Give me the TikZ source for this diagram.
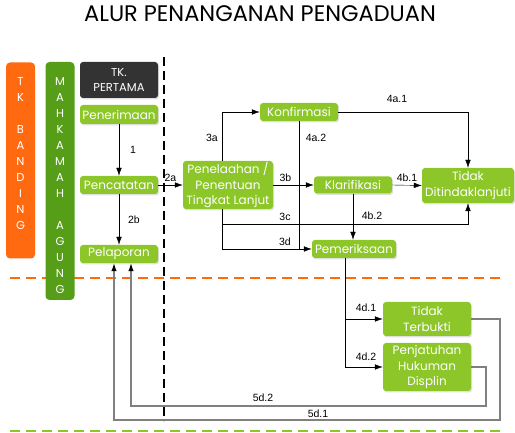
\documentclass[tikz,border=0pt]{standalone}
\usepackage{fontspec}
\setmainfont{Poppins}
\newfontfamily\labelfont{Liberation Sans}
\usetikzlibrary{arrows.meta,shadows}

\definecolor{boxgreen}{RGB}{140,198,40}
\definecolor{bargreen}{RGB}{86,158,24}
\definecolor{barorange}{RGB}{255,106,16}
\definecolor{boxdark}{RGB}{51,51,51}

\begin{document}
\begin{tikzpicture}[x=1pt,y=-1pt,
    tip/.style={-{Latex[length=8pt,width=5.5pt,black]}},
    box/.style={fill=boxgreen,rounded corners=3pt,text=white,align=center,inner sep=0pt,
        font=\fontsize{12}{15.5}\selectfont,
        drop shadow={opacity=0.25,shadow xshift=1pt,shadow yshift=-1.5pt}},
    bar/.style={rounded corners=4pt,minimum width=29pt,inner sep=0pt},
    letters/.style={text=white,align=center,inner sep=0pt,font=\fontsize{11.5}{16}\selectfont},
    lbl/.style={font=\labelfont\fontsize{10.5}{11}\selectfont},
    back/.style={draw=gray,line width=1.1pt}]
    \useasboundingbox (0,0) rectangle (515,433);
    \node[font=\fontsize{22.5}{24}\selectfont] (title) at (260,14) {ALUR PENANGANAN PENGADUAN};

    % batas tingkat
    \draw[barorange,line width=1.2pt,dash pattern=on 10pt off 6pt] (10,278) -- (505,278);
    \draw[boxgreen,line width=1.2pt,dash pattern=on 10pt off 6pt] (10,431) -- (505,431);
    \draw[line width=1.3pt,dash pattern=on 9pt off 5pt] (164,57) -- (164,421);

    \node[bar,fill=barorange,minimum height=196pt] (banding) at (20.5,160.5) {};
    \node[letters,anchor=north] at (banding.north |- 0,77) {T\\K\\ \mbox{}\\B\\A\\N\\D\\I\\N\\G};
    \node[bar,fill=bargreen,minimum height=238pt] (agung) at (60,181) {};
    \node[letters,anchor=north] at (agung.north |- 0,77) {M\\A\\H\\K\\A\\M\\A\\H\\ \mbox{}\\A\\G\\U\\N\\G};

    \node[box,fill=boxdark,minimum width=78pt,minimum height=36pt,font=\fontsize{11.5}{15}\selectfont] (pertama) at (119,80) {TK.\\PERTAMA};
    \node[box,minimum width=78pt,minimum height=19pt] (terima) at (119,114.5) {Penerimaan};
    \node[box,minimum width=78pt,minimum height=18pt] (catat) at (119,185) {Pencatatan};
    \node[box,minimum width=78pt,minimum height=18pt] (lapor) at (119,254) {Pelaporan};
    \node[box,minimum width=90pt,minimum height=48pt] (telaah) at (228,185) {Penelaahan /\\Penentuan\\Tingkat Lanjut};
    \node[box,minimum width=78pt,minimum height=18pt] (konf) at (299,112) {Konfirmasi};
    \node[box,minimum width=78pt,minimum height=17pt] (klar) at (353,185) {Klarifikasi};
    \node[box,minimum width=92pt,minimum height=35pt] (tidak) at (468,185.5) {Tidak\\Ditindaklanjuti};
    \node[box,minimum width=84pt,minimum height=18pt] (periksa) at (354,249) {Pemeriksaan};
    \node[box,minimum width=88pt,minimum height=34pt] (bukti) at (427,319) {Tidak\\Terbukti};
    \node[box,minimum width=88pt,minimum height=48pt] (hukum) at (427,367) {Penjatuhan\\Hukuman\\Displin};

    % alur
    \draw[tip] (terima) -- (catat) node[lbl,midway,xshift=14pt] {1};
    \draw[tip] (catat) -- (lapor) node[lbl,midway,xshift=15pt] {2b};
    \draw[tip] (catat.east) -- (telaah.west) node[lbl,midway,above] {2a};
    \draw[tip] ([xshift=-6pt]telaah.north) |- (konf.west);
    \draw[tip] (telaah.east) -- (klar.west) node[lbl,pos=0.3,above] {3b};
    \draw[tip] ([xshift=-6pt]telaah.south) -- ++(0,15) -| (tidak.south);
    \draw[tip] ([xshift=-6pt]telaah.south) |- (periksa.west);
    \draw[tip] (konf.east) -| (tidak.north);
    \draw (konf.south) -- (konf.south |- periksa.west);
    \draw[tip] (klar.east) -- (tidak.west) node[lbl,midway,above] {4b.1};
    \draw[tip] (klar.south) -- (klar.south |- periksa.north);
    \draw[tip] ([xshift=-9pt]periksa.south) |- (bukti.west);
    \draw[tip] ([xshift=-9pt]periksa.south) |- (hukum.west);
    \node[lbl] at (212,138) {3a};
    \node[lbl] at (285,217) {3c};
    \node[lbl] at (285,242) {3d};
    \node[lbl] at (397,99) {4a.1};
    \node[lbl] at (316,138) {4a.2};
    \node[lbl] at (372,216) {4b.2};
    \node[lbl] at (366,308) {4d.1};
    \node[lbl] at (366,357) {4d.2};

    % kembali ke pelaporan
    \coordinate (d1) at (500,420);
    \coordinate (d2) at (486,406);
    \draw[back,tip] (bukti.east) -| (d1) -| ([xshift=-5pt]lapor.south);
    \draw[back,tip] (hukum.east) -| (d2) -| ([xshift=12pt]lapor.south);
    \node[lbl] at (318,414) {5d.1};
    \node[lbl] at (263,398) {5d.2};
\end{tikzpicture}
\end{document}
